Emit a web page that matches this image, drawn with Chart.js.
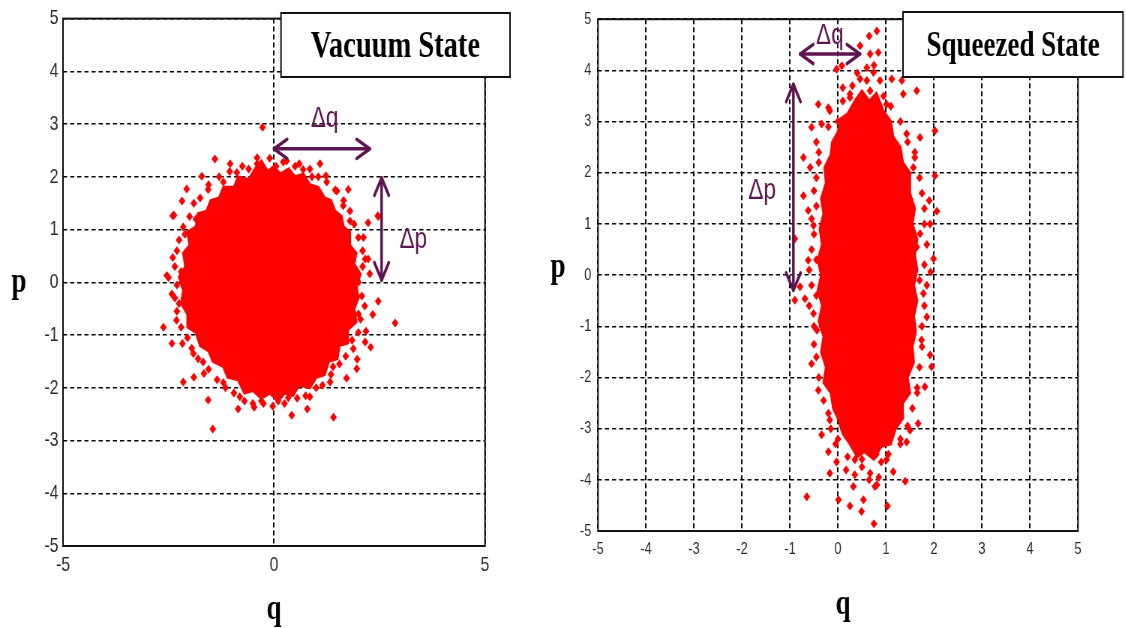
<!DOCTYPE html>
<html>
<head>
<meta charset="utf-8">
<script src="https://cdn.jsdelivr.net/npm/chart.js@4.4.1/dist/chart.umd.min.js"></script>
<style>
  html, body { margin: 0; padding: 0; background: #fff; overflow: hidden; }
  .panel { position: absolute; top: 0; transform-origin: 0 0; transform: scaleX(0.75); }
  #vacuum { left: 0; }
  #squeezed { left: 540px; }
</style>
</head>
<body>
<canvas id="vacuum" class="panel" width="720" height="628"></canvas>
<canvas id="squeezed" class="panel" width="782" height="628"></canvas>
<script>
// both panels are drawn wide and squeezed horizontally by the css transform
const SQUEEZE = 0.75;

const pTicks = [-5, -4, -3, -2, -1, 0, 1, 2, 3, 4, 5];
const qTicksVacuum = [-5, 0, 5];
const qTicksSqueezed = [-5, -4, -3, -2, -1, 0, 1, 2, 3, 4, 5];

// vacuum state: ragged outline of the dense core, then the loose points round it (q, p)
const vacuumCore = [
  [-0.45, 2.15], [-0.3, 2.3], [-0.15, 2.1], [0.0, 2.2], [0.15, 2.05], [0.35, 2.15], [0.5, 2.0],
  [0.7, 2.05], [0.85, 1.85], [1.05, 1.8], [1.2, 1.6], [1.35, 1.55], [1.45, 1.35], [1.6, 1.25],
  [1.65, 1.05], [1.8, 0.95], [1.8, 0.7], [1.95, 0.55], [1.9, 0.35], [2.05, 0.15], [1.95, -0.05],
  [2.0, -0.3], [1.9, -0.5], [1.95, -0.75], [1.75, -0.9], [1.75, -1.15], [1.55, -1.2], [1.5, -1.45],
  [1.3, -1.5], [1.2, -1.75], [1.0, -1.8], [0.85, -2.0], [0.6, -1.95], [0.45, -2.15], [0.25, -2.1],
  [0.1, -2.25], [-0.1, -2.1], [-0.3, -2.2], [-0.5, -2.05], [-0.7, -2.1], [-0.85, -1.85],
  [-1.1, -1.8], [-1.2, -1.6], [-1.45, -1.5], [-1.55, -1.3], [-1.75, -1.2], [-1.85, -0.95],
  [-2.05, -0.85], [-2.05, -0.6], [-2.2, -0.4], [-2.15, -0.15], [-2.25, 0.1], [-2.1, 0.3],
  [-2.15, 0.55], [-2.0, 0.7], [-2.05, 0.95], [-1.85, 1.05], [-1.8, 1.3], [-1.6, 1.35],
  [-1.5, 1.55], [-1.3, 1.6], [-1.2, 1.8], [-0.95, 1.8], [-0.85, 2.0], [-0.6, 1.95], [-0.45, 2.15]
];
const vacuumStray = [
  [-0.27, 2.94], [-1.40, 2.34], [-1.04, 2.25], [-0.40, 2.36], [0.22, 2.28], [1.09, 2.25],
  [0.50, 2.2], [-1.71, 2.01], [1.23, 2.02], [-2.07, 1.77], [-2.18, 1.54], [1.49, 1.73],
  [1.76, 1.76], [-2.37, 1.27], [1.80, 1.16], [2.23, 1.13], [2.47, 1.25], [-2.40, 0.47],
  [-2.50, 0.09], [2.12, 0.85], [2.23, 0.44], [2.27, 0.16], [-2.11, 0.91], [1.64, 1.45],
  [-0.88, 2.08], [0.69, 2.14], [-1.56, 1.76], [-2.42, -0.22], [-2.62, -0.85], [-2.31, -0.72],
  [-2.42, -1.16], [-2.17, -1.16], [-2.15, -1.89], [-1.90, -1.80], [-1.66, -1.73],
  [-1.56, -2.23], [-1.45, -2.78], [-0.85, -2.40], [-0.81, -2.17], [-0.47, -2.37],
  [-0.03, -2.35], [0.34, -2.19], [0.42, -2.52], [0.79, -2.40], [1.41, -2.56], [0.85, -2.17],
  [1.72, -1.82], [1.96, -1.64], [1.97, -1.46], [2.29, -1.23], [2.16, -1.13], [2.18, -0.93],
  [2.34, -0.61], [2.47, -0.36], [2.87, -0.77], [2.08, -0.26], [1.88, -1.26], [-1.91, -1.35],
  [-1.68, -1.51], [1.33, -1.89], [-2.54, 0.13], [-2.40, 1.26], [2.46, 1.26], [2.16, 0.44],
  [-0.6, 2.15], [0.05, 2.2], [0.9, 2.0], [-1.2, 1.9], [-1.85, 1.2], [2.0, 0.0], [2.0, -0.6],
  [-2.25, -0.4], [-2.2, 0.2], [1.4, -1.6], [-1.2, -1.9], [0.1, -2.25], [-0.3, -2.25],
  [-1.9, 1.5], [-1.75, 1.6], [-1.55, 1.85], [-1.3, 2.0], [-1.05, 2.1], [-0.75, 2.2],
  [-2.0, 1.25], [-2.15, 1.05], [-2.25, 0.8], [-2.3, 0.6], [-2.35, 0.3], [-2.3, -0.05],
  [-2.35, -0.3], [-2.3, -0.55], [-2.2, -0.85], [-2.05, -1.05], [-1.95, -1.25], [-1.8, -1.45],
  [-1.55, -1.65], [-1.35, -1.85], [-1.15, -2.0], [-0.95, -2.1], [-0.7, -2.25], [-0.5, -2.3],
  [-0.25, -2.3], [0.25, -2.3], [0.55, -2.2], [0.75, -2.15], [1.0, -2.0], [1.15, -1.95],
  [1.35, -1.75], [1.55, -1.55], [1.7, -1.4], [1.85, -1.1], [2.0, -0.95], [2.05, -0.7],
  [2.15, -0.45], [2.1, 0.3], [2.1, 0.6], [2.0, 0.85], [1.9, 1.1], [1.8, 1.35], [1.65, 1.55],
  [1.45, 1.75], [1.25, 1.9], [1.05, 2.0], [0.85, 2.15], [0.6, 2.25], [0.3, 2.3], [-0.1, 2.35],
  [-0.4, 2.25]
];
const vacuumDq = [[0, 2.53], [2.27, 2.53]];
const vacuumDp = [[2.55, 1.98], [2.55, 0.04]];

// squeezed state: same layout, stretched along p
const squeezedCore = [
  [0.35, 3.4], [0.5, 3.6], [0.65, 3.4], [0.8, 3.55], [0.95, 3.2], [1.1, 3.0], [1.15, 2.7],
  [1.3, 2.5], [1.35, 2.2], [1.5, 2.0], [1.5, 1.6], [1.6, 1.3], [1.55, 1.0], [1.65, 0.7],
  [1.6, 0.4], [1.65, 0.1], [1.58, -0.2], [1.65, -0.5], [1.58, -0.8], [1.62, -1.1], [1.55, -1.4],
  [1.58, -1.7], [1.45, -2.0], [1.5, -2.3], [1.35, -2.5], [1.35, -2.8], [1.2, -3.0], [1.1, -3.3],
  [0.9, -3.35], [0.75, -3.6], [0.55, -3.45], [0.4, -3.55], [0.25, -3.3], [0.1, -3.1],
  [0.0, -2.8], [-0.1, -2.6], [-0.15, -2.3], [-0.3, -2.1], [-0.25, -1.8], [-0.35, -1.5],
  [-0.3, -1.2], [-0.4, -0.9], [-0.33, -0.6], [-0.42, -0.3], [-0.35, 0.0], [-0.42, 0.3],
  [-0.33, 0.6], [-0.38, 0.9], [-0.3, 1.2], [-0.35, 1.5], [-0.25, 1.8], [-0.28, 2.1],
  [-0.15, 2.35], [-0.12, 2.6], [0.0, 2.8], [0.05, 3.05], [0.2, 3.15], [0.35, 3.4]
];
const squeezedStray = [
  [0.81, 4.77], [0.65, 4.67], [0.46, 4.48], [0.67, 4.32], [0.84, 4.35], [-0.03, 4.02],
  [0.08, 4.09], [0.74, 3.96], [0.60, 4.05], [1.12, 3.83], [1.33, 3.80], [1.64, 3.60],
  [1.36, 3.54], [-0.41, 3.34], [-0.34, 2.95], [-0.55, 2.89], [2.02, 2.82], [1.43, 2.76],
  [1.71, 2.69], [-0.72, 2.30], [-0.58, 2.10], [2.02, 1.94], [1.57, 2.10], [-0.2, 3.27],
  [0.25, 3.54], [0.46, 3.83], [0.25, 3.47], [0.67, 3.6], [-0.17, 3.21], [1.01, 3.34],
  [0.73, 3.21], [0.1, 3.66], [0.875, 3.8], [0.52, 3.15],
  [-0.72, 1.55], [-0.62, 1.26], [-0.51, 0.97], [-0.90, 0.71], [-0.62, 0.29], [-0.79, -0.23],
  [-0.90, -0.49], [-0.69, -0.46], [-0.51, -0.75], [-0.44, -1.08], [2.06, 1.25], [1.90, 1.46],
  [1.92, 1.0], [1.99, 0.32], [1.93, 0.06], [1.78, -0.36], [1.85, -0.82], [1.74, -1.27],
  [1.92, -1.56], [1.64, 0.55], [1.71, 0.81],
  [-0.55, -1.73], [-0.41, -2.25], [-0.17, -2.83], [-0.34, -3.12], [-0.20, -3.45],
  [-0.17, -3.87], [-0.65, -4.33], [0.01, -4.39], [0.25, -4.51], [0.32, -4.13], [0.49, -4.62],
  [0.53, -4.39], [0.75, -4.86], [0.77, -4.13], [1.03, -4.51], [1.40, -4.03], [1.15, -3.84],
  [1.43, -3.26], [1.50, -3.03], [1.67, -2.90], [1.81, -2.18], [1.95, -1.79], [0.17, -3.81],
  [0.67, -3.87], [1.01, -3.61], [0.35, -3.61], [-0.03, -3.65], [0.81, -4.1],
  [0.5, -3.6], [0.8, -3.5], [1.3, -3.2], [0.0, -3.2], [-0.4, 2.4], [1.6, 2.4], [1.7, -0.1],
  [-0.45, 0.3], [-0.45, -0.4], [1.65, -2.3],
  [-0.45, 2.6], [-0.4, 2.2], [-0.45, 1.9], [-0.5, 1.65], [-0.45, 1.35], [-0.55, 1.1],
  [-0.5, 0.8], [-0.55, 0.5], [-0.6, 0.1], [-0.55, -0.2], [-0.6, -0.6], [-0.5, -1.0],
  [-0.5, -1.35], [-0.45, -1.6], [-0.4, -2.0], [-0.3, -2.45], [-0.2, -2.7], [-0.15, -3.0],
  [-0.05, -3.3], [1.3, 3.0], [1.45, 2.6], [1.6, 2.3], [1.7, 1.9], [1.75, 1.6], [1.8, 1.3],
  [1.8, 1.0], [1.85, 0.6], [1.8, 0.2], [1.85, -0.2], [1.8, -0.6], [1.75, -1.0], [1.75, -1.4],
  [1.7, -1.8], [1.65, -2.2], [1.55, -2.6], [1.45, -2.95], [1.3, -3.3], [0.1, 3.4], [0.3, 3.7],
  [0.6, 3.8], [0.95, 3.5], [1.1, 3.3], [0.0, 3.0], [-0.2, 2.9], [0.4, 3.95], [0.75, 4.1],
  [0.2, -3.55], [0.5, -3.75], [0.9, -3.65], [1.05, -3.5], [0.65, -4.0], [0.35, -3.9], [0.85, -3.95]
];
const squeezedDq = [[-0.79, 4.32], [0.46, 4.32]];
const squeezedDp = [[-0.93, 3.73], [-0.93, -0.3]];

const RED = '#ff0000';
const ARROW = '#5e1450';

const toXY = (pairs) => pairs.map(([x, y]) => ({ x, y }));

function drawArrow(ctx, x1, y1, x2, y2) {
  const head = 20;
  ctx.beginPath();
  ctx.moveTo(x1, y1);
  ctx.lineTo(x2, y2);
  ctx.stroke();
  [[x1, y1, x2, y2], [x2, y2, x1, y1]].forEach(([ax, ay, bx, by]) => {
    const ang = Math.atan2(ay - by, ax - bx);
    ctx.beginPath();
    ctx.moveTo(ax - head * Math.cos(ang - 0.5), ay - head * Math.sin(ang - 0.5));
    ctx.lineTo(ax, ay);
    ctx.lineTo(ax - head * Math.cos(ang + 0.5), ay - head * Math.sin(ang + 0.5));
    ctx.stroke();
  });
}

// box, axis letters, state label and the two spread arrows
const decorations = {
  id: 'decorations',
  afterDatasetsDraw(chart, args, opts) {
    const { ctx, chartArea: a, scales } = chart;
    const px = (q) => scales.x.getPixelForValue(q);
    const py = (p) => scales.y.getPixelForValue(p);
    ctx.save();

    ctx.strokeStyle = '#111';
    ctx.lineWidth = 2;
    ctx.strokeRect(a.left, a.top, a.right - a.left, a.bottom - a.top);

    ctx.fillStyle = '#000';
    ctx.font = 'bold 36px "Liberation Serif", "Times New Roman", serif';
    ctx.textAlign = 'center';
    ctx.textBaseline = 'middle';
    ctx.fillText('p', opts.pAt[0], opts.pAt[1]);
    ctx.fillText('q', opts.qAt[0], opts.qAt[1]);

    const [bx, by, bw, bh] = opts.box;
    ctx.fillStyle = '#fff';
    ctx.fillRect(bx, by, bw, bh);
    ctx.lineWidth = 2;
    ctx.strokeStyle = '#111';
    ctx.strokeRect(bx, by, bw, bh);
    ctx.fillStyle = '#000';
    ctx.font = `bold ${opts.boxFont}px "Liberation Serif", "Times New Roman", serif`;
    ctx.fillText(opts.label, bx + bw / 2, by + bh / 2 + 2);

    ctx.strokeStyle = ARROW;
    ctx.lineWidth = 3.5;
    ctx.lineCap = 'round';
    ctx.lineJoin = 'round';
    drawArrow(ctx, px(opts.dq[0][0]), py(opts.dq[0][1]), px(opts.dq[1][0]), py(opts.dq[1][1]));
    drawArrow(ctx, px(opts.dp[0][0]), py(opts.dp[0][1]), px(opts.dp[1][0]), py(opts.dp[1][1]));

    ctx.fillStyle = ARROW;
    ctx.font = '30px "Liberation Sans", Arial, sans-serif';
    ctx.fillText('\u0394q', px(opts.dqText[0]), py(opts.dqText[1]));
    ctx.fillText('\u0394p', px(opts.dpText[0]), py(opts.dpText[1]));
    ctx.restore();
  }
};

function buildPanel(canvasId, cfg) {
  const canvas = document.getElementById(canvasId);
  const W = canvas.width;
  const H = canvas.height;
  const left = cfg.area.left / SQUEEZE;
  const right = cfg.area.right / SQUEEZE;

  return new Chart(canvas, {
    type: 'scatter',
    data: {
      datasets: [
        {
          data: toXY(cfg.stray),
          backgroundColor: RED,
          borderWidth: 0,
          pointStyle: 'rectRot',
          pointRadius: 4.5,
          order: 1
        },
        {
          type: 'line',
          data: toXY(cfg.core),
          showLine: true,
          fill: 'shape',
          tension: 0,
          borderColor: RED,
          backgroundColor: RED,
          borderWidth: 3,
          pointRadius: 0,
          order: 2
        }
      ]
    },
    options: {
      responsive: false,
      animation: false,
      events: [],
      layout: { padding: { left: 0, top: cfg.area.top, right: W - right, bottom: 0 } },
      plugins: {
        legend: { display: false },
        tooltip: { enabled: false },
        decorations: cfg.decor
      },
      scales: {
        x: {
          type: 'linear',
          min: -5,
          max: 5,
          afterBuildTicks: (axis) => { axis.ticks = cfg.qTicks.map((v) => ({ value: v })); },
          afterFit: (axis) => { axis.height = H - cfg.area.bottom; },
          border: { display: false, dash: [5, 3] },
          grid: { color: '#000', lineWidth: 2, drawTicks: false },
          ticks: {
            padding: cfg.xPad,
            color: '#2b2b33',
            font: { family: '"Liberation Sans", Arial, sans-serif', size: cfg.tickFont }
          }
        },
        y: {
          type: 'linear',
          min: -5,
          max: 5,
          afterBuildTicks: (axis) => { axis.ticks = pTicks.map((v) => ({ value: v })); },
          afterFit: (axis) => { axis.width = left; },
          border: { display: false, dash: [5.5, 4] },
          grid: { color: '#000', lineWidth: 1.5, drawTicks: false },
          ticks: {
            padding: cfg.yPad,
            color: '#2b2b33',
            font: { family: '"Liberation Sans", Arial, sans-serif', size: cfg.tickFont }
          }
        }
      }
    },
    plugins: [decorations]
  });
}

buildPanel('vacuum', {
  area: { left: 63, right: 485, top: 18, bottom: 546 },
  core: vacuumCore,
  stray: vacuumStray,
  qTicks: qTicksVacuum,
  tickFont: 21,
  xPad: 7,
  yPad: 6,
  decor: {
    label: 'Vacuum State',
    box: [281 / SQUEEZE, 13, 229 / SQUEEZE, 64],
    boxFont: 38,
    pAt: [19 / SQUEEZE, 283],
    qAt: [274 / SQUEEZE, 610],
    dq: vacuumDq,
    dp: vacuumDp,
    dqText: [1.2, 3.1],
    dpText: [3.3, 0.81]
  }
});

buildPanel('squeezed', {
  area: { left: 58, right: 538, top: 18, bottom: 531 },
  core: squeezedCore,
  stray: squeezedStray,
  qTicks: qTicksSqueezed,
  tickFont: 17,
  xPad: 8,
  yPad: 9,
  decor: {
    label: 'Squeezed State',
    box: [363 / SQUEEZE, 12, 220 / SQUEEZE, 65],
    boxFont: 36,
    pAt: [18 / SQUEEZE, 268],
    qAt: [303 / SQUEEZE, 605],
    dq: squeezedDq,
    dp: squeezedDp,
    dqText: [-0.17, 4.67],
    dpText: [-1.58, 1.65]
  }
});
</script>
</body>
</html>
